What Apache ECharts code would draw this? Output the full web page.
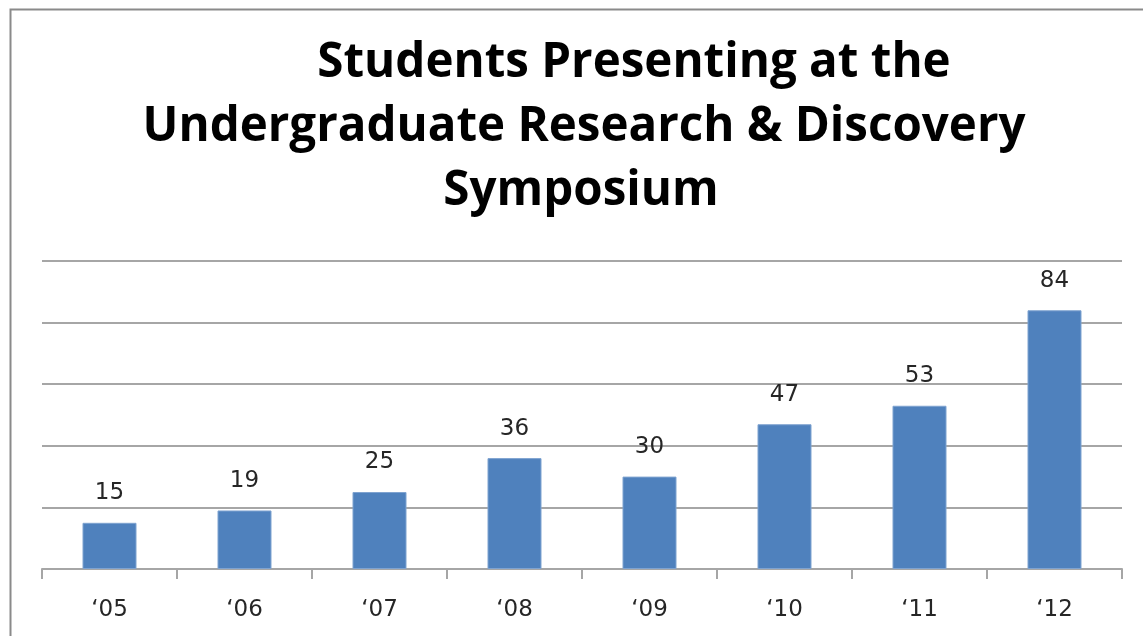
<!DOCTYPE html>
<html>
<head>
<meta charset="utf-8">
<script src="https://cdn.jsdelivr.net/npm/echarts@6/dist/echarts.min.js"></script>
<style>
html,body{margin:0;padding:0;background:#fff;}
#chart{width:1143px;height:636px;}
</style>
</head>
<body>
<div id="chart"></div>
<script>
const titleLines = ['Students Presenting at the', 'Undergraduate Research & Discovery', 'Symposium'];
const categories = ['\u201805', '\u201806', '\u201807', '\u201808', '\u201809', '\u201810', '\u201811', '\u201812'];
const students = [15, 19, 25, 36, 30, 47, 53, 84];

const chart = echarts.init(document.getElementById('chart'), null, {renderer: 'canvas'});
const titleStyle = {fontFamily: 'Open Sans', fontWeight: 'bold', fontSize: 47.5, color: '#000'};
chart.setOption({
  animation: false,
  backgroundColor: '#fff',
  graphic: [{
    type: 'rect', left: 8, top: 7, silent: true,
    shape: {width: 1200, height: 700},
    style: {fill: 'none', stroke: '#8a8a8a', lineWidth: 2}
  }],
  title: [
    {text: titleLines[0], left: 629, top: 34, textAlign: 'center', textStyle: titleStyle},
    {text: titleLines[1], left: 579, top: 98, textAlign: 'center', textStyle: titleStyle},
    {text: titleLines[2], left: 576, top: 162, textAlign: 'center', textStyle: titleStyle}
  ],
  grid: {left: 42, right: 21, top: 261, bottom: 67},
  xAxis: {
    type: 'category',
    data: categories,
    axisLine: {lineStyle: {color: '#a6a6a6', width: 2}},
    axisTick: {show: true, length: 10, lineStyle: {color: '#a6a6a6', width: 2}},
    axisLabel: {fontFamily: 'DejaVu Sans', fontSize: 23, color: '#262626', margin: 30}
  },
  yAxis: {
    type: 'value',
    min: 0, max: 100, interval: 20,
    axisLine: {show: false},
    axisTick: {show: false},
    axisLabel: {show: false},
    splitLine: {lineStyle: {color: '#a6a6a6', width: 2}}
  },
  series: [{
    type: 'bar',
    data: students,
    barWidth: '40%',
    itemStyle: {color: '#4f81bd', borderColor: '#7fa3d0', borderWidth: 1},
    label: {show: true, position: 'top', distance: 18, fontFamily: 'DejaVu Sans', fontSize: 23, color: '#262626'}
  }]
});
</script>
</body>
</html>
